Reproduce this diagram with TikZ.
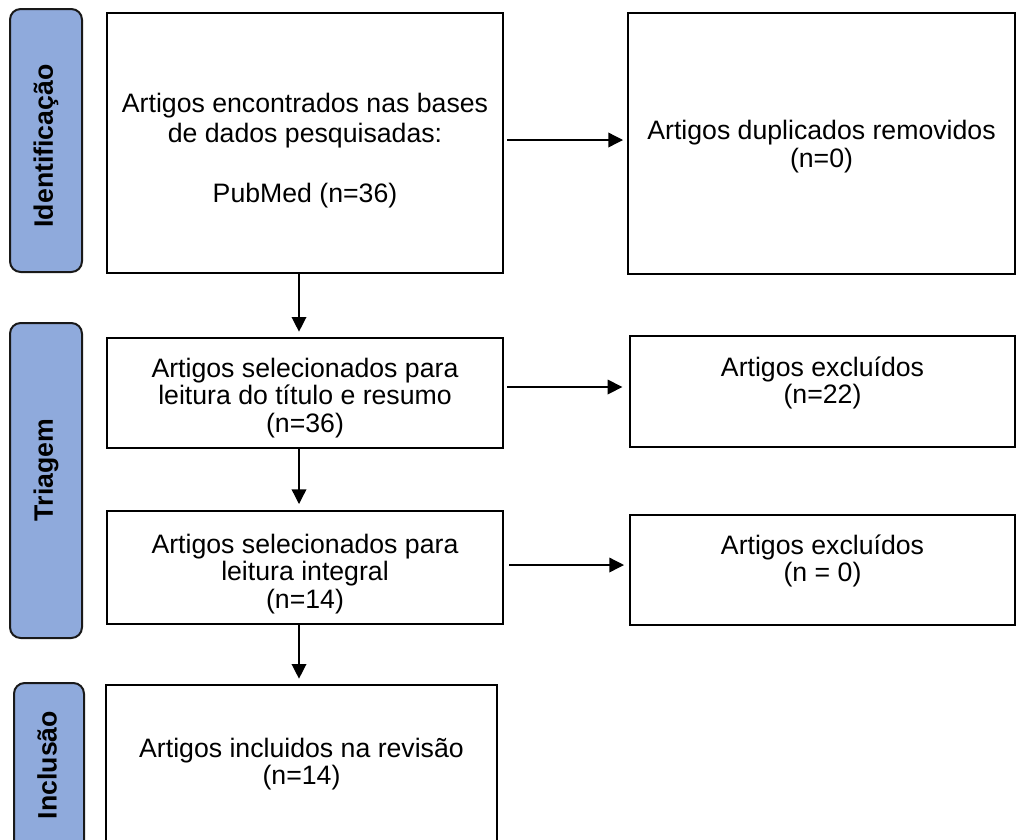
\documentclass[tikz,border=0pt]{standalone}
\usepackage{fontspec}
\setmainfont{Liberation Sans}
\usetikzlibrary{arrows.meta}
\definecolor{barblue}{HTML}{8FAADC}
\begin{document}
\begin{tikzpicture}[x=0.75pt,y=-0.75pt,
  box/.style={draw=black, line width=1.5pt, rectangle, inner sep=0pt},
  bar/.style={draw=black!90, line width=1.5pt, fill=barblue, rounded corners=8pt, inner sep=0pt},
  barlabel/.style={rotate=90, inner sep=0pt, font=\fontsize{20}{22}\selectfont\bfseries},
  txt/.style={align=center, inner sep=0pt, font=\fontsize{20}{20.5}\selectfont},
  arr/.style={-{Triangle[length=11pt,width=11pt]}, line width=1pt}]
\useasboundingbox (0,0) rectangle (1016,839);
\clip (0,0) rectangle (1016,839);

% phase bars
\node[bar, minimum width=54pt, minimum height=197.25pt] (bI) at (46,140.5) {};
\node[bar, minimum width=54pt, minimum height=236.25pt] (bT) at (46,480.5) {};
\node[bar, minimum width=52.5pt, minimum height=147.75pt] (bN) at (49,781.5) {};
\node[barlabel] (lI) at (46,146) {Identificação};
\node[barlabel] (lT) at (46,470) {Triagem};
\node[barlabel] (lN) at (47,765) {Inclusão};

% boxes
\node[box, minimum width=297pt, minimum height=195pt] (b1) at (305,143) {};
\node[txt, font=\fontsize{20}{22.5}\selectfont] (b1t) at (305,150.5)
  {Artigos encontrados nas bases\\de dados pesquisadas:\\[22.5pt]PubMed (n=36)};
\node[box, minimum width=290.25pt, minimum height=195.75pt] (dup) at (821.5,143.5) {};
\node[txt] (dupt) at (821.5,146.5) {Artigos duplicados removidos\\(n=0)};
\node[box, minimum width=297pt, minimum height=82.5pt] (b2) at (305,393) {};
\node[txt] (b2t) at (305,398) {Artigos selecionados para\\leitura do título e resumo\\(n=36)};
\node[box, minimum width=288.75pt, minimum height=83.25pt] (e1) at (822.5,391.5) {};
\node[txt] (e1t) at (822.5,383) {Artigos excluídos\\(n=22)};
\node[box, minimum width=297pt, minimum height=84.75pt] (b3) at (305,567.5) {};
\node[txt] (b3t) at (305,574) {Artigos selecionados para\\leitura integral\\(n=14)};
\node[box, minimum width=288.75pt, minimum height=82.5pt] (e2) at (822.5,570) {};
\node[txt] (e2t) at (822.5,561) {Artigos excluídos\\(n = 0)};
\node[box, minimum width=293.25pt, minimum height=146.25pt] (b4) at (301.5,782.5) {};
\node[txt] (b4t) at (301.5,764) {Artigos incluidos na revisão\\(n=14)};

% horizontal connectors
\coordinate (a1) at ([shift={(3,-3)}]b1.east);
\draw[arr, shorten >=3pt] (a1) -- (a1 -| dup.west);
\coordinate (a2) at ([shift={(3,-6)}]b2.east);
\draw[arr, shorten >=5pt] (a2) -- (a2 -| e1.west);
\coordinate (a3) at ([shift={(5,-2.5)}]b3.east);
\draw[arr, shorten >=3.75pt] (a3) -- (a3 -| e2.west);

% vertical connectors
\coordinate (v1) at ([shift={(-6,0)}]b1.south);
\draw[arr, shorten >=4pt] (v1) -- (v1 |- b2.north);
\coordinate (v2) at ([shift={(-6,0)}]b2.south);
\draw[arr, shorten >=4.5pt] (v2) -- (v2 |- b3.north);
\coordinate (v3) at ([shift={(-6,0)}]b3.south);
\draw[arr, shorten >=4pt] (v3) -- (v3 |- b4.north);
\end{tikzpicture}
\end{document}
